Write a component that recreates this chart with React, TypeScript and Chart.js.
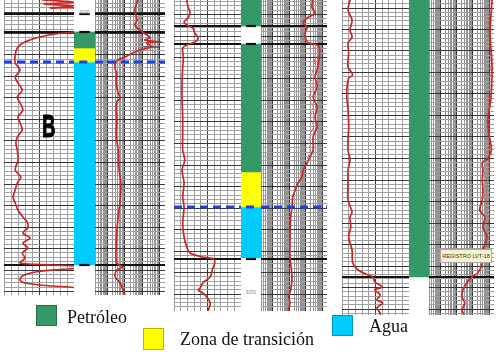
import React, { useEffect, useRef } from "react";
import { Chart, registerables } from "chart.js";

Chart.register(...registerables);

type Pt = [number, number]; // [depth row, curve value in % of track width]

// ---------------- data ----------------
const DEPTH_MAX = [295, 311, 315];
const GRID_ORIGIN = [12, 14.5, 8];
const GRID_STEP = 4.3;

const LEFT_GRID = [0, 10, 20, 30, 40, 50, 60, 70, 80, 90, 100];
const RIGHT_GRID = [
  0.2, 0.3, 0.4, 0.5, 0.6, 0.7, 0.8, 0.9, 1, 2, 3, 4, 5, 6, 7, 8, 9, 10, 20, 30, 40, 50, 60, 70, 80, 90,
  100, 200, 300, 400, 500, 600, 700, 800, 900, 1000, 2000,
];

const P1_LEFT: Pt[] = [
  [0, 54], [2, 99], [4, 57], [6, 100], [8, 66], [10, 115], [31, 115], [32, 100], [34, 73], [37, 51],
  [40, 37], [43, 27], [48, 19], [55, 16], [63, 16], [70, 23], [77, 16], [83, 20], [90, 26], [97, 19],
  [103, 23], [110, 27], [117, 20], [123, 23], [130, 26], [137, 19], [143, 17], [150, 19], [160, 20],
  [170, 16], [177, 24], [183, 19], [190, 16], [197, 13], [203, 16], [210, 20], [217, 27], [222, 33],
  [228, 34], [233, 27], [238, 37], [243, 27], [248, 34], [253, 26], [258, 30], [263, 23], [265, 70],
  [266.5, 110], [268, 110], [269.5, 80], [272, 45], [276, 26], [280, 23], [283, 30], [285.5, 60],
  [287.5, 100], [289, 115], [295, 115],
];
const P1_RIGHT: Pt[] = [
  [0, 61], [10, 57], [20, 60], [25, 57], [30, 64], [35, 74], [38, 79], [40, 71], [42, 89], [43, 74],
  [47, 81], [50, 64], [53, 54], [57, 43], [60, 33], [63, 29], [70, 29], [73, 31], [80, 30], [87, 31],
  [93, 33], [98, 36], [102, 31], [110, 30], [117, 31], [123, 31], [133, 30], [140, 31], [150, 33],
  [167, 34], [183, 37], [200, 36], [217, 33], [233, 31], [250, 30], [263, 31], [267, 40], [270, 31],
  [277, 29], [283, 36], [290, 40], [295, 43],
];
const P1_MARK_DEPTH = [42, 47];
const P1_MARK_FROM = [74, 69];
const P1_MARK_TO = [96, 93];

const P2_LEFT: Pt[] = [
  [0, 19], [7, 21], [13, 24], [18, 21], [22, 15], [25, 19], [28, 28], [33, 31], [38, 36], [42, 31],
  [45, 19], [48, 13], [58, 14], [67, 13], [83, 12], [100, 12], [117, 13], [133, 13], [150, 13],
  [160, 16], [170, 12], [183, 15], [197, 13], [207, 15], [223, 13], [237, 15], [247, 19], [253, 24],
  [257, 43], [258.5, 58], [262, 61], [270, 57], [277, 54], [283, 43], [288, 39], [290, 36], [293, 43],
  [297, 49], [303, 54], [311, 51],
];
const P2_RIGHT: Pt[] = [
  [0, 79], [7, 77], [13, 82], [18, 70], [23, 64], [27, 70], [33, 67], [42, 70], [45, 85], [50, 89],
  [67, 86], [77, 82], [87, 85], [97, 79], [107, 85], [117, 82], [127, 85], [137, 79], [150, 79],
  [157, 74], [163, 70], [170, 64], [177, 62], [183, 56], [190, 52], [197, 48], [207, 47], [217, 45],
  [237, 44], [257, 44], [277, 47], [290, 45], [297, 42], [303, 44], [311, 41],
];
const P2_RIGHT_DOT: Pt[] = [
  [0, 76], [13, 79], [18, 66], [23, 62], [33, 63], [42, 66], [45, 78], [50, 82], [67, 80], [77, 76],
  [87, 79], [97, 73], [107, 79], [117, 75], [127, 79], [137, 73], [150, 74], [160, 70],
];

const P3_LEFT: Pt[] = [
  [0, 12], [10, 9], [20, 15], [30, 12], [37, 15], [43, 9], [53, 10], [60, 9], [67, 9], [75, 16],
  [78, 10], [93, 7], [110, 9], [127, 10], [140, 9], [150, 9], [160, 12], [170, 9], [183, 9], [200, 9],
  [212, 15], [217, 12], [227, 13], [237, 10], [250, 15], [263, 16], [270, 24], [275, 39], [277, 46],
  [282, 49], [287, 60], [290, 49], [295, 57], [300, 52], [303, 61], [308, 52], [313, 57], [315, 57],
];
const P3_RIGHT: Pt[] = [
  [0, 97], [33, 94], [67, 97], [100, 95], [117, 91], [133, 92], [150, 96], [158, 91], [163, 82],
  [170, 83], [180, 82], [190, 83], [200, 82], [210, 78], [217, 86], [227, 83], [237, 89], [250, 83],
  [263, 82], [273, 75], [277, 66], [283, 58], [290, 52], [297, 51], [303, 55], [310, 51], [315, 54],
];
const P3_RIGHT_DOT: Pt[] = [
  [0, 94], [30, 92], [60, 95], [90, 93], [120, 90], [150, 92], [163, 92], [180, 90], [200, 88],
  [220, 91], [243, 89], [250, 86],
];

// zones: 0 = Petróleo, 1 = Zona de transición, 2 = Agua
const P1_ZONE_KIND = [0, 1, 2];
const P1_ZONE_TOP = [32, 48, 62];
const P1_ZONE_BASE = [48, 62, 265];
const P2_ZONE_KIND = [0, 0, 1, 2];
const P2_ZONE_TOP = [0, 44, 172, 207];
const P2_ZONE_BASE = [26, 172, 207, 258];
const P3_ZONE_KIND = [0];
const P3_ZONE_TOP = [0];
const P3_ZONE_BASE = [277];

const P1_BLACK = [14, 32, 265];
const P2_BLACK = [26, 44, 259];
const P3_BLACK = [277];
const P1_CONTACT = [62];
const P2_CONTACT = [207];
const P3_CONTACT: number[] = [];

const LEGEND_LABELS = ["Petróleo", "Zona de transición", "Agua"];
const WELL_LETTER = "B";
const WELL_TAG = "REGISTRO LVT-18";
const DEPTH_TAGS = ["9000", "9250"];

// ---------------- styles / layout ----------------
const ZONE_COLORS = ["#339966", "#ffff00", "#00ccff"];
const ZONE_BORDERS = ["#25704a", "#b8b800", "#0095c0"];
const RED = "#c62828";
const BLUE = "#1f3fe0";
const MAJOR = "#383838";
const MINOR = "#a0a0a0";

const STRIPS = [
  { left: 4, col: 74, right: 95, end: 165 },
  { left: 174, col: 241, right: 261, end: 327 },
  { left: 342, col: 409, right: 429, end: 494 },
];

type Panel = {
  max: number;
  origin: number;
  left: Pt[];
  right: Pt[];
  rightDot: Pt[] | null;
  kind: number[];
  top: number[];
  base: number[];
  black: number[];
  blackInColumn: boolean;
  contacts: number[];
  marks: { d: number[]; from: number[]; to: number[] } | null;
};

const PANELS: Panel[] = [
  {
    max: DEPTH_MAX[0], origin: GRID_ORIGIN[0], left: P1_LEFT, right: P1_RIGHT, rightDot: null,
    kind: P1_ZONE_KIND, top: P1_ZONE_TOP, base: P1_ZONE_BASE, black: P1_BLACK, blackInColumn: true,
    contacts: P1_CONTACT, marks: { d: P1_MARK_DEPTH, from: P1_MARK_FROM, to: P1_MARK_TO },
  },
  {
    max: DEPTH_MAX[1], origin: GRID_ORIGIN[1], left: P2_LEFT, right: P2_RIGHT, rightDot: P2_RIGHT_DOT,
    kind: P2_ZONE_KIND, top: P2_ZONE_TOP, base: P2_ZONE_BASE, black: P2_BLACK, blackInColumn: true,
    contacts: P2_CONTACT, marks: null,
  },
  {
    max: DEPTH_MAX[2], origin: GRID_ORIGIN[2], left: P3_LEFT, right: P3_RIGHT, rightDot: P3_RIGHT_DOT,
    kind: P3_ZONE_KIND, top: P3_ZONE_TOP, base: P3_ZONE_BASE, black: P3_BLACK, blackInColumn: false,
    contacts: P3_CONTACT, marks: null,
  },
];

function depthTicks(origin: number, max: number) {
  const out: { value: number }[] = [];
  let v = origin - Math.floor(origin / GRID_STEP) * GRID_STEP;
  for (; v <= max + 0.001; v += GRID_STEP) out.push({ value: v });
  return out;
}
function isMajorDepth(v: number, origin: number) {
  const k = Math.round((v - origin) / GRID_STEP);
  return ((k % 5) + 5) % 5 === 0;
}
function hLine(depth: number, from: number, to: number) {
  return [{ x: from, y: depth }, { x: to, y: depth }];
}

const BASE_OPTS: any = {
  animation: false,
  responsive: false,
  maintainAspectRatio: false,
  events: [],
  layout: { padding: 0 },
  plugins: { legend: { display: false }, tooltip: { enabled: false } },
  elements: { point: { radius: 0 } },
};

function makeTrack(canvas: HTMLCanvasElement, p: Panel, side: "left" | "right") {
  const ds: any[] = [];
  p.contacts.forEach((d) =>
    ds.push({ data: hLine(d, 0, 100), borderColor: BLUE, borderWidth: 3, borderDash: [8, 5], xAxisID: "xc", pointRadius: 0 })
  );
  const curve = side === "left" ? p.left : p.right;
  ds.push({
    data: curve.map(([d, v]) => ({ x: v, y: d })),
    borderColor: RED, borderWidth: 1.7, tension: 0.3, xAxisID: "xc", pointRadius: 0,
  });
  if (side === "right" && p.rightDot) {
    ds.push({
      data: p.rightDot.map(([d, v]) => ({ x: v, y: d })),
      borderColor: "#d65050", borderWidth: 1, borderDash: [1.5, 1.5], tension: 0.3, xAxisID: "xc", pointRadius: 0,
    });
  }
  if (side === "right" && p.marks) {
    const m = p.marks;
    m.d.forEach((d, i) =>
      ds.push({ data: hLine(d, m.from[i], m.to[i]), borderColor: "#222", borderWidth: 1, xAxisID: "xc", pointRadius: 0 })
    );
  }
  p.black.forEach((d) =>
    ds.push({ data: hLine(d, 0, 100), borderColor: "#111", borderWidth: 2.2, xAxisID: "xc", pointRadius: 0 })
  );

  const xGrid =
    side === "left"
      ? {
          type: "linear", min: 0, max: 100,
          afterBuildTicks: (s: any) => { s.ticks = LEFT_GRID.map((v) => ({ value: v })); },
          grid: { color: (c: any) => (c.tick && c.tick.value === 50 ? MAJOR : MINOR), drawTicks: false, lineWidth: 1 },
          ticks: { display: false }, border: { display: false },
        }
      : {
          type: "logarithmic", min: 0.2, max: 2000,
          afterBuildTicks: (s: any) => { s.ticks = RIGHT_GRID.map((v) => ({ value: v })); },
          grid: {
            color: (c: any) => {
              if (!c.tick) return MINOR;
              const l = Math.log10(c.tick.value);
              return Math.abs(l - Math.round(l)) < 1e-6 ? MAJOR : "#949494";
            },
            drawTicks: false, lineWidth: 1,
          },
          ticks: { display: false }, border: { display: false },
        };

  return new Chart(canvas, {
    type: "line",
    data: { datasets: ds },
    options: {
      ...BASE_OPTS,
      scales: {
        x: xGrid,
        xc: { type: "linear", min: 0, max: 100, display: false },
        y: {
          type: "linear", min: 0, max: p.max, reverse: true,
          afterBuildTicks: (s: any) => { s.ticks = depthTicks(p.origin, p.max); },
          grid: {
            color: (c: any) => (c.tick && isMajorDepth(c.tick.value, p.origin) ? MAJOR : MINOR),
            drawTicks: false, lineWidth: 1,
          },
          ticks: { display: false }, border: { display: false },
        },
      },
    } as any,
  });
}

function makeColumn(canvas: HTMLCanvasElement, p: Panel) {
  const ds: any[] = [];
  p.contacts.forEach((d) =>
    ds.push({ type: "line", data: hLine(d, 0, 1), borderColor: BLUE, borderWidth: 3, borderDash: [8, 5], xAxisID: "xl", pointRadius: 0 })
  );
  if (p.blackInColumn) {
    p.black.forEach((d) =>
      ds.push({ type: "line", data: hLine(d, 0, 1), borderColor: "#111", borderWidth: 2.2, xAxisID: "xl", pointRadius: 0 })
    );
  }
  p.kind.forEach((k, i) =>
    ds.push({
      type: "bar", label: LEGEND_LABELS[k], data: [[p.top[i], p.base[i]]],
      backgroundColor: ZONE_COLORS[k], borderWidth: 0, grouped: false,
      barPercentage: 1, categoryPercentage: 1, xAxisID: "x",
    })
  );
  return new Chart(canvas, {
    type: "bar",
    data: { labels: ["zona"], datasets: ds },
    options: {
      ...BASE_OPTS,
      scales: {
        x: { type: "category", display: false },
        xl: { type: "linear", min: 0, max: 1, display: false },
        y: { type: "linear", min: 0, max: p.max, reverse: true, display: false },
      },
    } as any,
  });
}

export default function App() {
  const refs = useRef<(HTMLCanvasElement | null)[]>([]);

  useEffect(() => {
    const charts: Chart[] = [];
    PANELS.forEach((p, i) => {
      const l = refs.current[i * 3];
      const c = refs.current[i * 3 + 1];
      const r = refs.current[i * 3 + 2];
      if (l) charts.push(makeTrack(l, p, "left"));
      if (c) charts.push(makeColumn(c, p));
      if (r) charts.push(makeTrack(r, p, "right"));
    });
    return () => charts.forEach((ch) => ch.destroy());
  }, []);

  const canvases: React.ReactNode[] = [];
  STRIPS.forEach((s, i) => {
    const h = DEPTH_MAX[i];
    const parts = [
      [s.left, s.col - s.left],
      [s.col, s.right - s.col],
      [s.right, s.end - s.right],
    ];
    parts.forEach(([x, w], j) => {
      canvases.push(
        <canvas
          key={`c${i}-${j}`}
          ref={(el) => { refs.current[i * 3 + j] = el; }}
          width={w}
          height={h}
          style={{ position: "absolute", left: x, top: 0, width: w, height: h, display: "block" }}
        />
      );
    });
  });

  const serif = '"Liberation Serif", "Times New Roman", serif';
  const sq = (left: number, top: number, k: number, h = 21) => (
    <div
      style={{
        position: "absolute", left, top, width: 21, height: h, boxSizing: "border-box",
        background: ZONE_COLORS[k], border: `1px solid ${ZONE_BORDERS[k]}`,
      }}
    />
  );
  const txt = (left: number, top: number, s: string) => (
    <div style={{ position: "absolute", left, top, font: `18px ${serif}`, lineHeight: "18px", whiteSpace: "nowrap", color: "#111" }}>
      {s}
    </div>
  );

  return (
    <div style={{ position: "absolute", left: 0, top: 0, width: 500, height: 352, background: "#fff", overflow: "hidden" }}>
      {canvases}
      <div
        style={{
          position: "absolute", left: 42, top: 110, font: '900 32px "Liberation Sans", Arial, sans-serif',
          lineHeight: "32px", transform: "scaleX(0.58)", transformOrigin: "left top", color: "#000",
          WebkitTextStroke: "1px #000",
        }}
      >
        {WELL_LETTER}
      </div>
      <div
        style={{
          position: "absolute", left: 440, top: 249, width: 52, height: 14, boxSizing: "border-box",
          background: "#f6f1cf", border: "1px solid #a8a8a8", font: '5.5px "Liberation Sans", Arial, sans-serif',
          lineHeight: "12px", textAlign: "center", color: "#333", whiteSpace: "nowrap",
        }}
      >
        {WELL_TAG}
      </div>
      <div style={{ position: "absolute", left: 74, top: 10, width: 21, textAlign: "center", font: '4.5px "Liberation Sans", Arial', color: "#888" }}>
        {DEPTH_TAGS[0]}
      </div>
      <div style={{ position: "absolute", left: 241, top: 290, width: 20, textAlign: "center", font: '4.5px "Liberation Sans", Arial', color: "#888" }}>
        {DEPTH_TAGS[1]}
      </div>
      {sq(36, 305, 0)}
      {txt(67, 308, LEGEND_LABELS[0])}
      {sq(143, 328, 1, 22)}
      {txt(180, 330, LEGEND_LABELS[1])}
      {sq(332, 315, 2)}
      {txt(369, 317, LEGEND_LABELS[2])}
    </div>
  );
}
